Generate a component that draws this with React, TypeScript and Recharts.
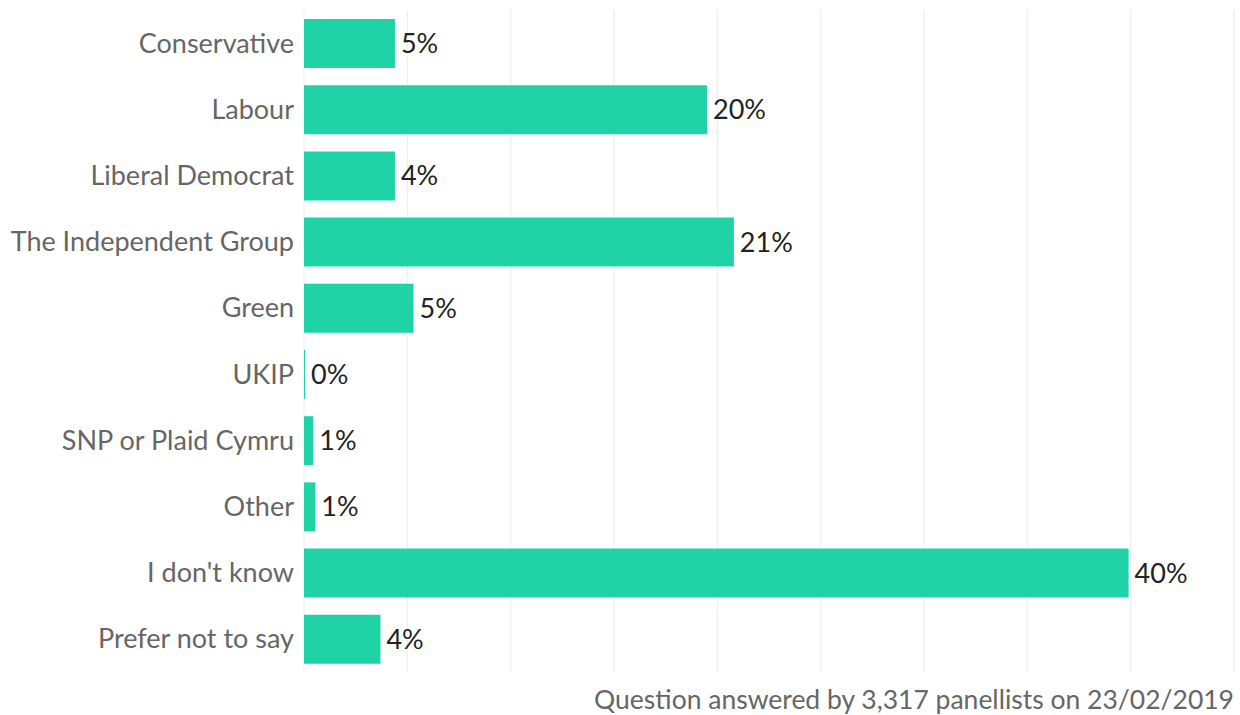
import React from "react";
import {
  BarChart,
  Bar,
  XAxis,
  YAxis,
  CartesianGrid,
  LabelList,
} from "recharts";

const parties = [
  "Conservative",
  "Labour",
  "Liberal Democrat",
  "The Independent Group",
  "Green",
  "UKIP",
  "SNP or Plaid Cymru",
  "Other",
  "I don't know",
  "Prefer not to say",
];

// bar lengths (percent)
const shares = [4.4, 19.5, 4.4, 20.8, 5.3, 0.05, 0.45, 0.55, 39.9, 3.7];

// the rounded labels as printed next to each bar
const shareLabels = ["5%", "20%", "4%", "21%", "5%", "0%", "1%", "1%", "40%", "4%"];

const xTicks = [0, 5, 10, 15, 20, 25, 30, 35, 40, 45];

const data = parties.map((name, i) => ({
  name,
  value: shares[i],
  label: shareLabels[i],
}));

const NoTick = () => <g />;

export default function App() {
  return (
    <div
      style={{
        position: "absolute",
        left: 0,
        top: 0,
        width: 1240,
        height: 715,
        background: "#fff",
        fontFamily: "Lato, sans-serif",
      }}
    >
      <BarChart
        width={1240}
        height={672}
        data={data}
        layout="vertical"
        margin={{ top: 10, right: 6, left: 0, bottom: 0 }}
        barSize={49}
      >
        <CartesianGrid horizontal={false} stroke="#ebebeb" />
        <XAxis
          type="number"
          domain={[0, 45]}
          ticks={xTicks}
          interval={0}
          height={0}
          tick={NoTick}
          axisLine={false}
          tickLine={false}
        />
        <YAxis
          type="category"
          dataKey="name"
          width={304}
          axisLine={false}
          tickLine={false}
          tickMargin={4}
          tick={{ fontSize: 27, fill: "#666", fontFamily: "Lato" }}
        />
        <Bar dataKey="value" fill="#20d3a7" isAnimationActive={false}>
          <LabelList
            dataKey="label"
            position="right"
            offset={6}
            fill="#222"
            fontSize={27}
            fontFamily="Lato"
          />
        </Bar>
      </BarChart>
      <div
        style={{
          position: "absolute",
          right: 6,
          top: 683,
          fontSize: 26.5,
          color: "#666",
          fontFamily: "Lato",
          lineHeight: "32px",
        }}
      >
        Question answered by 3,317 panellists on 23/02/2019
      </div>
    </div>
  );
}
